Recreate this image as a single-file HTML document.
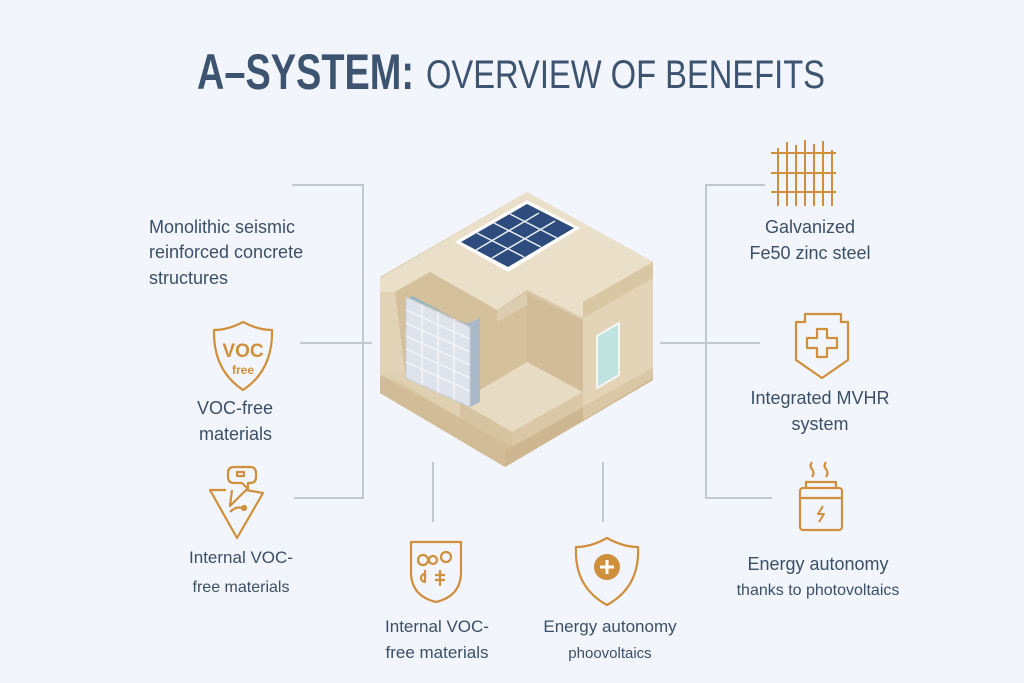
<!DOCTYPE html>
<html><head><meta charset="utf-8"><style>
html,body{margin:0;padding:0;background:#f2f5fb;}
svg{display:block;}
text{font-family:"Liberation Sans",sans-serif;fill:#3b4f66;}
text.or{fill:#cf8f3c;}
</style></head><body>
<svg width="1024" height="683" viewBox="0 0 1024 683" xmlns="http://www.w3.org/2000/svg">
<rect width="1024" height="683" fill="#f2f5fb"/>
<!-- title -->
<text x="197" y="89" font-size="50" font-weight="bold" textLength="217" lengthAdjust="spacingAndGlyphs" style="fill:#3d5470">A–SYSTEM:</text>
<text x="426" y="88" font-size="40" textLength="399" lengthAdjust="spacingAndGlyphs" style="fill:#3d5470">OVERVIEW OF BENEFITS</text>
<!-- connectors -->
<g stroke="#c3c8d0" stroke-width="2" fill="none">
<polyline points="292,185 363,185 363,498 294,498"/>
<line x1="300" y1="343" x2="372" y2="343"/>
<polyline points="765,185 706,185 706,498 772,498"/>
<line x1="660" y1="343" x2="760" y2="343"/>
<line x1="433" y1="462" x2="433" y2="522"/>
<line x1="603" y1="462" x2="603" y2="522"/>
</g>
<!-- building -->
<polygon points="380,277 527,192 653,262 653,380 505,467 380,393" fill="#d9c6a3"/>
<polygon points="380,278 527,192 653,262 583,302 583,318 527,290 497,310 430,272 395,292 380,292" fill="#eadfc9"/>
<polygon points="395,292 430,272 497,310 497,322 527,305 527,365 470,398 405,372" fill="#d5c09c"/>
<polygon points="497,310 527,293 583,318 583,330 527,305 497,322" fill="#ddcdb0"/>
<polygon points="527,293 527,365 583,392 583,320" fill="#d1bc97"/>
<polygon points="583,318 653,278 653,378 583,420" fill="#e3d4b8"/>
<polygon points="597,336 619,323 619,375 597,388" fill="#bfe3df" stroke="#f5f5f5" stroke-width="2"/>
<polygon points="380,292 395,292 405,372 405,385 380,375" fill="#e2d3b6"/>
<polygon points="460,402 527,362 583,392 512,432" fill="#e8dbc3"/>
<polygon points="460,402 512,432 512,447 460,417" fill="#d6c3a0"/>
<polygon points="380,375 460,418 512,447 505,450 505,467 380,393" fill="#d1bc97"/>
<polygon points="380,375 405,385 460,418 460,402 405,372" fill="#e0d0b2"/>
<polygon points="505,450 653,368 653,380 505,467" fill="#cdb690"/>
<polygon points="512,432 583,392 583,420 653,378 653,368 512,447" fill="#d9c7a5"/>
<!-- panel -->
<polygon points="466,324 480,318 480,402 470,407" fill="#aab8c8"/>
<polygon points="406,297 470,327 470,407 406,378" fill="#dfe4ec" stroke="#c5ced9"/>
<g stroke="#f7f9fc" stroke-width="1.2">
<line x1="406" y1="310" x2="470" y2="339"/><line x1="406" y1="323" x2="470" y2="352"/>
<line x1="406" y1="336" x2="470" y2="365"/><line x1="406" y1="349" x2="470" y2="378"/>
<line x1="406" y1="362" x2="470" y2="391"/>
<line x1="422" y1="305" x2="422" y2="385"/><line x1="438" y1="312" x2="438" y2="393"/><line x1="454" y1="319" x2="454" y2="400"/>
</g>
<polygon points="410,298 470,325 466,324 412,296" fill="#8fb4c8"/>
<!-- solar -->
<polygon points="455,242 527,200 580,228 508,272" fill="#ffffff"/>
<polygon points="461,242 527,204 574,228 508,267" fill="#2d4b7c"/>
<g stroke="#e9eef5" stroke-width="1.5">
<line x1="477" y1="233" x2="524" y2="257"/><line x1="494" y1="223" x2="541" y2="247"/><line x1="510" y1="214" x2="557" y2="238"/>
<line x1="476" y1="250" x2="539" y2="213"/><line x1="492" y1="258" x2="555" y2="221"/>
</g>
<!-- icons -->
<g fill="none" stroke="#cf8f3c" stroke-width="2.2" stroke-linejoin="round">
<path d="M243,322 Q258,330 272,330 Q273,370 243,390 Q213,370 214,330 Q228,330 243,322Z"/>
<path d="M282,467 h16 q6,0 6,6 v4 q0,6 -6,6 h-2 v6 l-6,-6 h-8 q-6,0 -6,-6 v-4 q0,-6 6,-6z" transform="translate(-48,0)"/>
<rect x="237" y="472" width="7" height="4"/>
<path d="M226,490 L210,490 L237,538 L263,493 L246,490 L230,506 L232,490"/>
<path d="M230,512 q6,-6 12,-4"/>
<circle cx="244" cy="508" r="2" fill="#cf8f3c"/>
<g stroke-width="2">
<line x1="778" y1="148" x2="778" y2="206"/><line x1="787" y1="142" x2="787" y2="206"/><line x1="796" y1="145" x2="796" y2="206"/>
<line x1="805" y1="140" x2="805" y2="206"/><line x1="814" y1="144" x2="814" y2="206"/><line x1="823" y1="141" x2="823" y2="206"/><line x1="832" y1="150" x2="832" y2="206"/>
<line x1="771" y1="153" x2="836" y2="153"/><line x1="771" y1="173" x2="836" y2="173"/><line x1="771" y1="192" x2="836" y2="192"/>
</g>
<path d="M805,314 h36 v8 h7 v38 l-26,18 l-26,-18 v-38 h9z"/>
<path d="M817,329 h10 v9 h10 v10 h-10 v9 h-10 v-9 h-10 v-10 h10z"/>
<path d="M812,462 q-3,4 0,7 q3,4 0,8 M826,462 q-3,4 0,7 q3,4 0,8"/>
<rect x="800" y="488" width="42" height="42" rx="3"/>
<line x1="800" y1="498" x2="842" y2="498"/>
<path d="M806,488 v-6 h30 v6"/>
<path d="M823,506 l-5,8 h6 l-5,8" stroke-width="2"/>
<path d="M411,542 h50 v30 q0,24 -25,30 q-25,-6 -25,-30z"/>
<circle cx="423" cy="560" r="5"/><circle cx="433" cy="560" r="4"/><circle cx="446" cy="557" r="5"/>
<path d="M425,574 a4,4 0 1 0 0,8 v-12"/><path d="M440,570 v16 M435,575 h10 M435,580 h10"/>
<path d="M607,538 q16,9 31,9 q2,40 -31,58 q-33,-18 -31,-58 q15,0 31,-9z"/>
</g>
<circle cx="607" cy="567" r="13" fill="#cf8f3c"/>
<path d="M607,560 v14 M600,567 h14" stroke="#fff" stroke-width="3"/>
<text class="or" x="243" y="357" font-size="19" font-weight="bold" text-anchor="middle">VOC</text>
<text class="or" x="243" y="374" font-size="12" font-weight="bold" text-anchor="middle">free</text>
<!-- labels -->
<g font-size="18">
<text x="149" y="233">Monolithic seismic</text>
<text x="149" y="258">reinforced concrete</text>
<text x="149" y="284">structures</text>
<text x="197" y="414">VOC-free</text>
<text x="199" y="440">materials</text>
<text x="241" y="563" text-anchor="middle" font-size="17">Internal VOC-</text>
<text x="241" y="592" text-anchor="middle" font-size="16">free materials</text>
<text x="810" y="233" text-anchor="middle">Galvanized</text>
<text x="810" y="259" text-anchor="middle">Fe50 zinc steel</text>
<text x="820" y="404" text-anchor="middle">Integrated MVHR</text>
<text x="820" y="430" text-anchor="middle">system</text>
<text x="818" y="570" text-anchor="middle">Energy autonomy</text>
<text x="818" y="595" text-anchor="middle" font-size="16">thanks to photovoltaics</text>
<text x="437" y="632" text-anchor="middle" font-size="17">Internal VOC-</text>
<text x="437" y="658" text-anchor="middle" font-size="17">free materials</text>
<text x="610" y="632" text-anchor="middle" font-size="17">Energy autonomy</text>
<text x="610" y="658" text-anchor="middle" font-size="15">phoovoltaics</text>
</g>
</svg>
</body></html>
